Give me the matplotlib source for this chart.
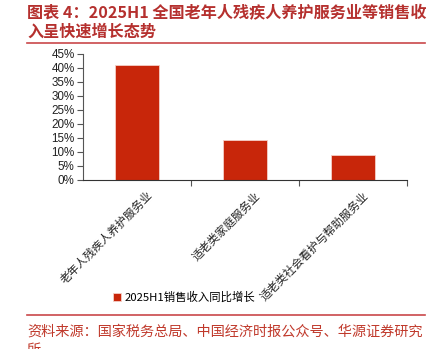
import matplotlib
matplotlib.use("Agg")
import matplotlib.pyplot as plt
import matplotlib.transforms as mtransforms
from matplotlib.ticker import FixedLocator, NullFormatter

plt.rcParams['font.family'] = ['Liberation Sans', 'Noto Sans CJK SC', 'DejaVu Sans']

categories = ["老年人残疾人养护服务业", "适老类家庭服务业", "适老类社会看护与帮助服务业"]
growth = [41.2, 14.3, 9.0]  # 2025H1 同比增长, %
series_name = "2025H1销售收入同比增长"
y_ticks = [0, 5, 10, 15, 20, 25, 30, 35, 40, 45]
title_lines = ["图表 4：2025H1 全国老年人残疾人养护服务业等销售收",
               "入呈快速增长态势"]
source_lines = ["资料来源：国家税务总局、中国经济时报公众号、华源证券研究",
                "所"]

W, H = 443, 349
fig = plt.figure(figsize=(W / 100, H / 100), dpi=100)
RED = "#B5302E"
BAR = "#C8260A"

# header / footer rules
for y in (43, 315):
    fig.add_artist(plt.Line2D([27 / W, 425 / W], [1 - y / H, 1 - y / H],
                              color="#C9484A", lw=1.2))

cjk = ['Noto Sans CJK SC', 'DejaVu Sans']
for i, line in enumerate(title_lines):
    fig.text(27 / W, 1 - (13 + 19 * i) / H, line, color=RED, fontsize=11.6,
             fontweight='bold', family=cjk, va='center', ha='left')
for i, line in enumerate(source_lines):
    fig.text(27 / W, 1 - (332 + 18 * i) / H, line, color="#C0392B", fontsize=10.2,
             fontweight='light', family=cjk, va='center', ha='left')

ax = fig.add_axes([83 / W, 1 - 180 / H, (407 - 83) / W, (180 - 54) / H])
x = list(range(len(categories)))
bars = ax.bar(x, growth, width=0.41, color=BAR, edgecolor="#F4D0C8",
              linewidth=0.6, label=series_name)
ax.set_xlim(-0.5, len(categories) - 0.5)
ax.set_ylim(0, 45)
ax.set_yticks(y_ticks)
ax.set_yticklabels([f"{v}%" for v in y_ticks], fontsize=8.4, color="#222222")

# category boundaries carry the ticks, labels sit at bar centres
ax.xaxis.set_major_locator(FixedLocator([i + 0.5 for i in x]))
ax.xaxis.set_major_formatter(NullFormatter())
ax.xaxis.set_minor_locator(FixedLocator(x))
ax.set_xticklabels(categories, minor=True, rotation=45, ha='right',
                   rotation_mode='anchor', fontsize=8.2, family=cjk,
                   color="#222222")
ax.tick_params(axis='x', which='minor', length=0, pad=2)
ax.tick_params(axis='x', which='major', length=4, direction='out',
               color="#555555")
ax.tick_params(axis='y', length=4, direction='out', color="#555555", pad=2)
offset = mtransforms.ScaledTranslation(10 / 100, -7 / 100, fig.dpi_scale_trans)
for lab in ax.xaxis.get_minorticklabels():
    lab.set_transform(lab.get_transform() + offset)

for s in ('top', 'right'):
    ax.spines[s].set_visible(False)
ax.spines['left'].set_color("#555555")
ax.spines['bottom'].set_color("#333333")

leg = fig.legend(handles=[bars], labels=[series_name], loc='center left',
                 bbox_to_anchor=(103 / W, 1 - 297 / H), frameon=False,
                 handlelength=0.7, handleheight=0.7, handletextpad=0.3,
                 prop={'family': cjk, 'size': 8.2})

fig.savefig("out.png", dpi=100, facecolor="white")
